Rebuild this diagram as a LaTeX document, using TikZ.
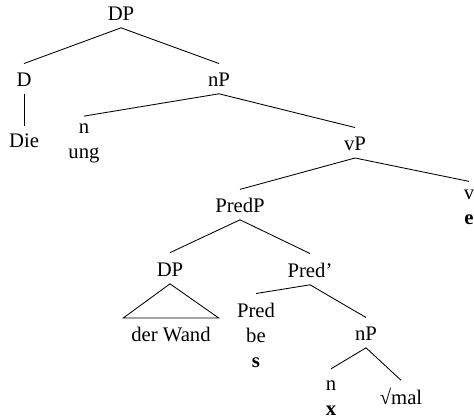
\documentclass[tikz,border=0pt]{standalone}
\usepackage{fontspec}
\setmainfont{Liberation Serif}
\usetikzlibrary{positioning}

\begin{document}
\begin{tikzpicture}[
    x=0.58pt, y=-0.58pt,
    every node/.style={font=\fontsize{12}{14.5}\selectfont},
    cat/.style={anchor=north, inner sep=0pt, align=center},
    roof/.style={cat, inner xsep=4.5pt, inner ysep=5.2pt},
    branch/.style={line width=0.5pt}
]
    \useasboundingbox (0,0) rectangle (474,417);

    % Top of the tree
    \node (dp)    [cat] at (121, 7)   {DP};
    \node (d)     [cat] at (24, 73)   {D};
    \node (die)   [cat] at (24, 133)  {Die};
    \node (np)    [cat] at (219, 73)  {nP};
    \node (nung)  [cat] at (84, 123)  {n\\ung};
    \node (vp)    [cat] at (355, 137) {vP};
    \node (ve)    [cat] at (469, 190) {v\\\textbf{e}};

    % Predication
    \node (predp) [cat] at (240, 198) {PredP};
    \node (dpw)   [cat] at (170, 263) {DP};
    \node (wand)  [roof] at (171, 318) {der Wand};
    \node (predb) [cat] at (310, 263) {Pred’};
    \node (pred)  [cat] at (256, 303) {Pred\\be\\\textbf{s}};

    % Lower nP
    \node (npl)   [cat] at (366, 327) {nP};
    \node (nx)    [cat] at (331, 380) {n\\\textbf{x}};
    \node (mal)   [cat] at (401, 388) {√mal};

    % Branches
    \draw [branch] ([yshift=-3.8pt]dp.south) -- ([yshift=5.5pt]d.north);
    \draw [branch] ([yshift=-3.8pt]dp.south) -- ([yshift=5.5pt]np.north);
    \draw [branch] ([yshift=-3.8pt]d.south) -- ([yshift=4pt]die.north);
    \draw [branch] ([yshift=-3.8pt]np.south) -- ([yshift=4pt]nung.north);
    \draw [branch] ([yshift=-3.8pt]np.south) -- ([yshift=5.5pt]vp.north);
    \draw [branch] ([yshift=-3.8pt]vp.south) -- ([yshift=5pt]predp.north);
    \draw [branch] ([yshift=-3.8pt]vp.south) -- ([yshift=5pt]ve.north);
    \draw [branch] ([yshift=-3.8pt]predp.south) -- ([yshift=6pt]dpw.north);
    \draw [branch] ([yshift=-3.8pt]predp.south) -- ([yshift=5.5pt]predb.north);
    \draw [branch] ([yshift=-3.8pt]predb.south) -- ([yshift=5.5pt]pred.north);
    \draw [branch] ([yshift=-3.8pt]predb.south) -- ([yshift=5.5pt]npl.north);
    \draw [branch] ([yshift=-3.8pt]npl.south) -- ([yshift=6.5pt]nx.north);
    \draw [branch] ([yshift=-3.8pt]npl.south) -- ([yshift=4.5pt]mal.north);

    % Roof over the DP
    \draw [branch] ([yshift=-3.8pt]dpw.south) -- (wand.north west) -- (wand.north east) -- cycle;
\end{tikzpicture}
\end{document}
